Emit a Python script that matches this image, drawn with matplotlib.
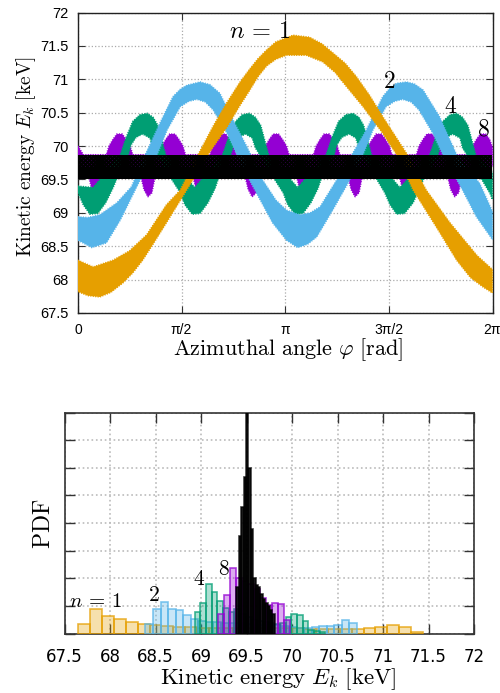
import numpy as np
import matplotlib
matplotlib.use('Agg')
import matplotlib.pyplot as plt

plt.rcParams['mathtext.fontset'] = 'cm'
plt.rcParams['hatch.linewidth'] = 1.7

W, H = 500, 693

# --- top panel: edges of each scatter band
orange_up_phi = [0, .23, .53, .78, 1.04, 1.34, 1.55, 1.82, 2.05, 2.25, 2.45, 2.6, 2.73, 2.86, 3.0, 3.26, 3.51, 3.7, 3.87, 4.05, 4.22, 4.42, 4.62, 4.98, 5.28, 5.64, 5.89, 6.05, 6.24, 6.283]
orange_up_E = [68.29, 68.19, 68.29, 68.43, 68.67, 69.12, 69.34, 69.87, 70.3, 70.64, 70.95, 71.15, 71.31, 71.44, 71.56, 71.66, 71.63, 71.53, 71.39, 71.24, 71.04, 70.76, 70.44, 69.89, 69.34, 68.85, 68.55, 68.36, 68.19, 68.15]
orange_lo_phi = [0, .15, .33, .5, .68, .83, .98, 1.15, 1.34, 1.54, 1.74, 1.97, 2.27, 2.45, 2.6, 2.73, 2.86, 3.0, 3.16, 3.46, 3.71, 3.9, 4.07, 4.32, 4.62, 4.83, 5.08, 5.43, 5.74, 5.95, 6.14, 6.283]
orange_lo_E = [67.82, 67.76, 67.74, 67.81, 67.95, 68.1, 68.29, 68.55, 68.85, 69.17, 69.49, 69.87, 70.3, 70.6, 70.83, 71.04, 71.2, 71.3, 71.36, 71.36, 71.26, 71.1, 70.89, 70.59, 70.19, 69.87, 69.34, 68.79, 68.29, 68.03, 67.89, 67.8]

blue_up_phi = [0, .15, .33, .59, .81, 1.02, 1.24, 1.44, 1.55, 1.65, 1.85, 2.0, 2.15, 2.35, 2.56, 2.8, 3.0, 3.16, 3.36, 3.52, 3.67, 3.92, 4.17, 4.37, 4.62, 4.73, 4.83, 4.98, 5.1, 5.23, 5.48, 5.74, 6.09, 6.283]
blue_up_E = [68.94, 68.93, 68.97, 69.15, 69.39, 69.87, 70.34, 70.74, 70.85, 70.91, 70.96, 70.92, 70.79, 70.39, 69.99, 69.49, 69.19, 69.04, 68.97, 69.0, 69.09, 69.49, 69.9, 70.24, 70.74, 70.87, 70.94, 70.96, 70.93, 70.84, 70.44, 69.87, 69.44, 69.02]
blue_lo_phi = [0, .21, .43, .64, .94, 1.2, 1.35, 1.55, 1.68, 1.8, 1.93, 2.05, 2.26, 2.41, 2.6, 2.95, 3.16, 3.33, 3.48, 3.62, 3.86, 4.09, 4.32, 4.47, 4.67, 4.8, 4.92, 5.05, 5.17, 5.38, 5.53, 5.83, 6.04, 6.283]
blue_lo_E = [68.59, 68.48, 68.55, 68.89, 69.49, 69.87, 70.24, 70.59, 70.67, 70.7, 70.66, 70.54, 70.19, 69.87, 69.49, 68.85, 68.59, 68.48, 68.53, 68.64, 69.04, 69.44, 69.87, 70.24, 70.59, 70.67, 70.7, 70.66, 70.54, 70.19, 69.87, 69.34, 68.94, 68.6]

green_up_phi = [0, .23, .64, .73, .83, .94, 1.05, 1.14, 1.21, 1.33, 1.77, 2.19, 2.28, 2.39, 2.49, 2.6, 2.69, 2.77, 2.89, 3.33, 3.76, 3.85, 3.95, 4.06, 4.17, 4.26, 4.33, 4.45, 4.88, 5.33, 5.42, 5.53, 5.64, 5.74, 5.83, 5.91, 6.03, 6.283]
green_up_E = [69.4, 69.38, 69.87, 70.13, 70.37, 70.47, 70.49, 70.43, 70.31, 69.87, 69.38, 69.87, 70.13, 70.37, 70.47, 70.49, 70.43, 70.31, 69.87, 69.38, 69.87, 70.13, 70.37, 70.47, 70.49, 70.43, 70.31, 69.87, 69.38, 69.87, 70.13, 70.37, 70.47, 70.49, 70.43, 70.31, 69.87, 69.6]
green_lo_phi = [0, .08, .18, .3, .42, .53, .58, .76, .8, .88, .98, 1.09, 1.14, 1.24, 1.42, 1.55, 1.62, 1.73, 1.85, 1.97, 2.08, 2.12, 2.31, 2.36, 2.43, 2.54, 2.64, 2.69, 2.8, 2.98, 3.11, 3.18, 3.29, 3.41, 3.53, 3.64, 3.68, 3.88, 3.92, 4.0, 4.11, 4.21, 4.26, 4.36, 4.53, 4.65, 4.73, 4.83, 4.95, 5.08, 5.18, 5.23, 5.45, 5.5, 5.58, 5.68, 5.79, 5.83, 5.94, 6.12, 6.24, 6.283]
green_lo_E = [69.3, 69.12, 68.98, 68.99, 69.15, 69.37, 69.49, 69.85, 70.01, 70.13, 70.18, 70.12, 69.97, 69.8, 69.5, 69.3, 69.12, 68.98, 68.99, 69.15, 69.37, 69.49, 69.85, 70.01, 70.13, 70.18, 70.12, 69.97, 69.8, 69.5, 69.3, 69.12, 68.98, 68.99, 69.15, 69.37, 69.49, 69.85, 70.01, 70.13, 70.18, 70.12, 69.97, 69.8, 69.5, 69.3, 69.12, 68.98, 68.99, 69.15, 69.37, 69.49, 69.85, 70.01, 70.13, 70.18, 70.12, 69.97, 69.8, 69.5, 69.3, 69.2]

purple_up_phi = [0, .08, .43, .47, .53, .59, .67, .73, .79, .83, 1.23, 1.27, 1.33, 1.39, 1.47, 1.53, 1.59, 1.63, 2.0, 2.04, 2.1, 2.16, 2.24, 2.3, 2.36, 2.4, 2.8, 2.84, 2.9, 2.96, 3.04, 3.1, 3.16, 3.2, 3.57, 3.61, 3.67, 3.73, 3.81, 3.87, 3.93, 3.97, 4.36, 4.4, 4.46, 4.52, 4.6, 4.66, 4.72, 4.76, 5.13, 5.17, 5.23, 5.29, 5.37, 5.43, 5.49, 5.53, 5.94, 5.98, 6.04, 6.1, 6.18, 6.24, 6.283]
purple_up_E = [70.0, 69.87, 69.87, 70.0, 70.1, 70.18, 70.18, 70.1, 70.0, 69.87, 69.87, 70.0, 70.1, 70.18, 70.18, 70.1, 70.0, 69.87, 69.87, 70.0, 70.1, 70.18, 70.18, 70.1, 70.0, 69.87, 69.87, 70.0, 70.1, 70.18, 70.18, 70.1, 70.0, 69.87, 69.87, 70.0, 70.1, 70.18, 70.18, 70.1, 70.0, 69.87, 69.87, 70.0, 70.1, 70.18, 70.18, 70.1, 70.0, 69.87, 69.87, 70.0, 70.1, 70.18, 70.18, 70.1, 70.0, 69.87, 69.87, 70.0, 70.1, 70.18, 70.18, 70.1, 69.98]
purple_lo_phi = [0, .15, .21, .27, .33, .39, .94, 1.0, 1.06, 1.12, 1.18, 1.73, 1.79, 1.85, 1.91, 1.97, 2.52, 2.58, 2.64, 2.7, 2.76, 3.3, 3.36, 3.42, 3.48, 3.54, 4.08, 4.14, 4.2, 4.26, 4.32, 4.86, 4.92, 4.98, 5.04, 5.1, 5.59, 5.65, 5.71, 5.77, 5.83, 6.283]
purple_lo_E = [69.7, 69.6, 69.35, 69.24, 69.3, 69.6, 69.6, 69.35, 69.24, 69.3, 69.6, 69.6, 69.35, 69.24, 69.3, 69.6, 69.6, 69.35, 69.24, 69.3, 69.6, 69.6, 69.35, 69.24, 69.3, 69.6, 69.6, 69.35, 69.24, 69.3, 69.6, 69.6, 69.35, 69.24, 69.3, 69.6, 69.6, 69.35, 69.24, 69.3, 69.6, 69.7]

black_phi = [0, 6.283]
black_lo = [69.51, 69.51]
black_mid = [69.68, 69.68]
black_hi = [69.86, 69.86]

phi_ticks = [0, np.pi / 2, np.pi, 3 * np.pi / 2, 2 * np.pi]
phi_labels = ['0', 'π/2', 'π', '3π/2', '2π']
E_ticks = [67.5, 68, 68.5, 69, 69.5, 70, 70.5, 71, 71.5, 72]
E_labels = ['67.5', '68', '68.5', '69', '69.5', '70', '70.5', '71', '71.5', '72']

# --- bottom panel: histogram heights
orange_start, orange_w = 67.65, 0.1307
orange_pdf = [.34, .88, .64, .52, .43, .35, .31, .29, .25, .24, .22, .22, .21, .20, .20, .20, .20, .19, .19, .18, .17, .17, .16, .17, .19, .23, .33, .25, .07]
blue_start, blue_w = 68.39, 0.083
blue_pdf = [.35, .88, 1.13, .89, .84, .66, .54, .46, .42, .42, .40, .38, .38, .36, .32, .3, .3, .3, .27, .24, .22, .22, .24, .28, .28, .31, .48, .37]
green_start, green_w = 68.93, 0.0625
green_pdf = [.78, 1.1, 1.8, 1.52, 1.19, .92, .8, .89, .7, .6, .5, .45, .42, .38, .36, .4, .61, .71, .67, .46, .12, .1, .06]
purple_start, purple_w = 69.187, 0.066
purple_pdf = [.7, 1.4, 2.36, 2.0, 1.9, 1.8, 1.6, 1.3, 1.04, 1.1, 1.07, .5]
black_start, black_w = 69.388, 0.0264
black_pdf = [1.7, 3.53, 4.6, 5.68, 7.97, 6.0, 3.8, 2.0, 1.75, 1.7, 1.45, 1.25, 1.1, 1.0, .85, .7]

pdf_ticks = [0, 1, 2, 3, 4, 5, 6, 7, 8]

ORANGE = '#E69F00'
BLUE = '#56B4E9'
GREEN = '#009E73'
PURPLE = '#9400D3'
SANS = ['Liberation Sans', 'DejaVu Sans']


def band(ax, up_phi, up_E, lo_phi, lo_E, color, z):
    ax.fill(list(up_phi) + list(lo_phi)[::-1], list(up_E) + list(lo_E)[::-1],
            facecolor=color, edgecolor=color, lw=1.1, ls=(0, (0.7, 0.9)), zorder=z)


def hist(ax, start, width, vals, color, z, alpha=0.32):
    left = start + width * np.arange(len(vals))
    ax.bar(left, vals, width, align='edge', color=matplotlib.colors.to_rgba(color, alpha),
           edgecolor=matplotlib.colors.to_rgba(color, 0.75), lw=1.2, zorder=z)


def axes_px(x0, y0, x1, y1):
    return fig.add_axes([x0 / W, 1 - y1 / H, (x1 - x0) / W, (y1 - y0) / H])


fig = plt.figure(figsize=(W / 100, H / 100), dpi=100)

# top panel
ax = axes_px(78, 12.5, 492.5, 313)
band(ax, purple_up_phi, purple_up_E, purple_lo_phi, purple_lo_E, PURPLE, 3)
band(ax, green_up_phi, green_up_E, green_lo_phi, green_lo_E, GREEN, 4)
band(ax, blue_up_phi, blue_up_E, blue_lo_phi, blue_lo_E, BLUE, 5)
band(ax, orange_up_phi, orange_up_E, orange_lo_phi, orange_lo_E, ORANGE, 6)
ax.fill_between(black_phi, black_lo, black_mid, color='k', lw=0, zorder=7)
ax.fill_between(black_phi, black_mid, black_hi, facecolor='none', edgecolor='k', hatch='xxxxxxxx', lw=0, zorder=7)
ax.set_xlim(0, 2 * np.pi)
ax.set_ylim(67.5, 72)
ax.set_xticks(phi_ticks, phi_labels, family=SANS, fontsize=10)
ax.set_yticks(E_ticks, E_labels, family=SANS, fontsize=10.5)
ax.tick_params(direction='in', top=True, right=True, length=5, width=0.8, color='#333333', pad=7)
ax.grid(True, color='#aaaaaa', ls=':', lw=0.9)
ax.set_axisbelow(True)
for s in ax.spines.values():
    s.set_linewidth(1.0)
    s.set_color('#222222')

ax.text(2.76, 71.72, r'$n\,{=}\,1$', fontsize=17.5, ha='center', va='center', zorder=9)
ax.text(4.72, 70.98, r'$2$', fontsize=17, ha='center', va='center', zorder=9)
ax.text(5.64, 70.6, r'$4$', fontsize=17, ha='center', va='center', zorder=9)
ax.text(6.15, 70.27, r'$8$', fontsize=17, ha='center', va='center', zorder=9)

# bottom panel
bx = axes_px(64.5, 412.5, 474, 633.7)
hist(bx, orange_start, orange_w, orange_pdf, ORANGE, 3)
hist(bx, blue_start, blue_w, blue_pdf, BLUE, 4)
hist(bx, green_start, green_w, green_pdf, GREEN, 5)
hist(bx, purple_start, purple_w, purple_pdf, PURPLE, 6)
hist(bx, black_start, black_w, black_pdf, '#000000', 7, alpha=0.9)
bx.set_xlim(67.5, 72)
bx.set_ylim(0, 8)
bx.set_xticks(E_ticks, E_labels, fontsize=12)
bx.set_yticks(pdf_ticks, [''] * len(pdf_ticks))
bx.tick_params(direction='in', top=True, right=True, length=7, width=1.0, color='#333333', pad=10)
bx.grid(True, color='#bbbbbb', ls=':', lw=1.2)
bx.set_axisbelow(True)
for s in bx.spines.values():
    s.set_linewidth(1.2)
    s.set_color('#333333')

bx.text(67.84, 1.17, r'$n\,{=}\,1$', fontsize=15, ha='center', va='center', zorder=9)
bx.text(68.48, 1.4, r'$2$', fontsize=15.5, ha='center', va='center', zorder=9)
bx.text(68.98, 1.97, r'$4$', fontsize=15.5, ha='center', va='center', zorder=9)
bx.text(69.25, 2.35, r'$8$', fontsize=15.5, ha='center', va='center', zorder=9)

fig.text(288 / W, 1 - 350 / H, r'$\mathrm{Azimuthal\ angle}\ \varphi\ [\mathrm{rad}]$', fontsize=16, ha='center', va='center')
fig.text(26 / W, 1 - 157 / H, r'$\mathrm{Kinetic\ energy}\ E_k\ [\mathrm{keV}]$', fontsize=14, rotation=90, ha='center', va='center')
fig.text(278 / W, 1 - 679 / H, r'$\mathrm{Kinetic\ energy}\ E_k\ [\mathrm{keV}]$', fontsize=16.5, ha='center', va='center')
fig.text(43 / W, 1 - 524 / H, r'$\mathrm{PDF}$', fontsize=17, rotation=90, ha='center', va='center')

fig.savefig('out.png', dpi=100)
